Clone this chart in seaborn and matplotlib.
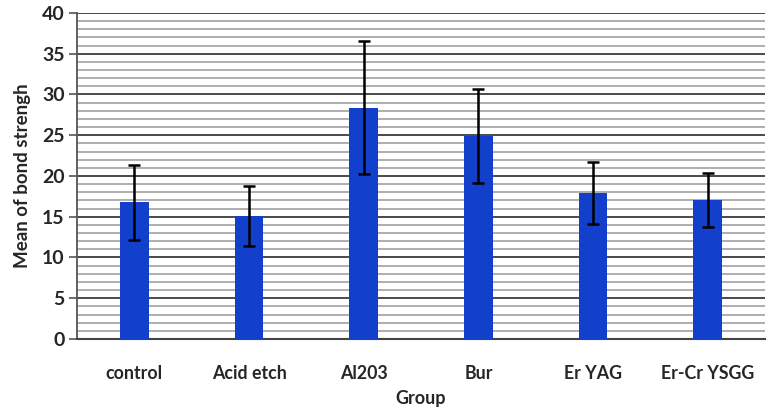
import numpy as np
import pandas as pd
import matplotlib
matplotlib.use("Agg")
import matplotlib.pyplot as plt
import seaborn as sns
from matplotlib.ticker import MultipleLocator


groups = ["control", "Acid etch", "Al203", "Bur", "Er YAG", "Er-Cr YSGG"]
means = [16.8, 15.1, 28.4, 24.9, 17.9, 17.1]
errors = [4.6, 3.7, 8.1, 5.8, 3.8, 3.3]

df = pd.DataFrame({"Group": groups, "Mean": means})

sns.set_style("white")
plt.rcParams["font.family"] = ["Lato", "DejaVu Sans"]

fig = plt.figure(figsize=(7.74, 4.18), dpi=100)
ax = fig.add_axes([0.0995, 0.189, 0.889, 0.780])

sns.barplot(
    data=df,
    x="Group",
    y="Mean",
    color="#1240cc",
    saturation=1,
    width=0.25,
    errorbar=None,
    linewidth=0,
    zorder=3,
    ax=ax
)

ax.errorbar(
    np.arange(len(groups)),
    means,
    yerr=errors,
    fmt="none",
    ecolor="black",
    elinewidth=1.8,
    capsize=4,
    capthick=1.8,
    zorder=4
)

ax.set_ylim(0, 40)
ax.set_xlim(-0.5, len(groups) - 0.5)
ax.yaxis.set_major_locator(MultipleLocator(5))
ax.yaxis.set_minor_locator(MultipleLocator(1))

ax.grid(axis="y", which="major", color="#3c3c3c", linewidth=1.3, zorder=0)
ax.grid(axis="y", which="minor", color="#a8a8a8", linewidth=1.3, zorder=0)
ax.set_axisbelow(True)

for side in ["top", "right"]:
    ax.spines[side].set_visible(False)
ax.spines["left"].set_color("#555555")
ax.spines["left"].set_linewidth(1.3)
ax.spines["bottom"].set_color("#444444")
ax.spines["bottom"].set_linewidth(1.5)

ax.tick_params(axis="y", which="major", left=True, length=6, width=1.2,
               color="#555555", labelsize=14, pad=3)
ax.tick_params(axis="y", which="minor", left=False)
ax.tick_params(axis="x", bottom=False, labelsize=12.8, pad=15)

for lbl in ax.get_yticklabels() + ax.get_xticklabels():
    lbl.set_fontweight("bold")

ax.set_xlabel("Group", fontsize=13, fontweight="bold", labelpad=6)
ax.set_ylabel("Mean of bond strengh", fontsize=13.5, fontweight="bold", labelpad=8)

plt.savefig("out.png", dpi=100)
plt.close()
